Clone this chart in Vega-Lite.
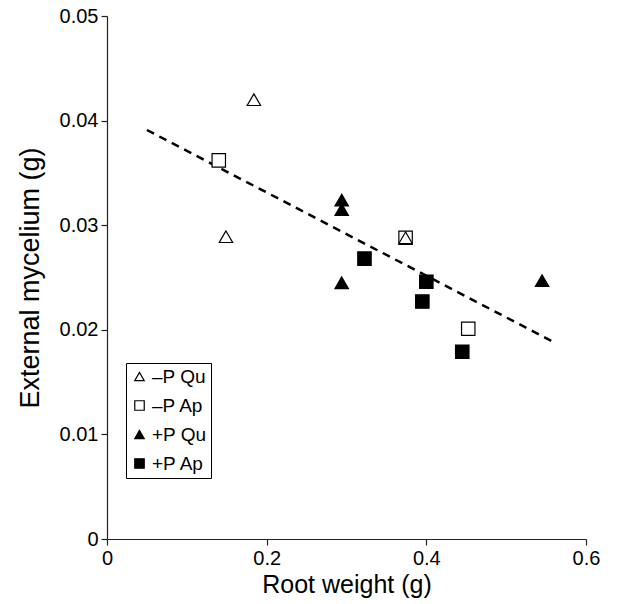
{
  "$schema": "https://vega.github.io/schema/vega-lite/v6.json",
  "width": 479,
  "height": 523,
  "autosize": "none",
  "padding": {"left": 107, "top": 16, "right": 41, "bottom": 65},
  "background": "white",
  "config": {
    "view": {"stroke": null},
    "font": "Liberation Sans",
    "axis": {
      "grid": false,
      "labelFlush": false,
      "domainColor": "#222222",
      "domainWidth": 1.2,
      "tickColor": "#222222",
      "tickWidth": 1.2,
      "tickSize": 6,
      "labelFont": "Liberation Sans",
      "labelFontSize": 20,
      "labelColor": "black",
      "titleFont": "Liberation Sans",
      "titleFontSize": 25,
      "titleFontWeight": "normal",
      "titleColor": "black"
    },
    "legend": {
      "title": null,
      "orient": "none",
      "legendX": 19,
      "legendY": 347,
      "strokeColor": "black",
      "fillColor": "white",
      "padding": 4,
      "labelFont": "Liberation Sans",
      "labelFontSize": 19,
      "labelColor": "black",
      "labelOffset": 3,
      "symbolSize": 90,
      "symbolStrokeColor": "black",
      "symbolStrokeWidth": 1.2,
      "rowPadding": 9
    }
  },
  "layer": [
    {
      "data": {"values": [
        {"x": 0.05, "y": 0.0391},
        {"x": 0.56, "y": 0.0188}
      ]},
      "mark": {"type": "line", "color": "black", "strokeWidth": 2.5, "strokeDash": [8, 6]},
      "encoding": {
        "x": {"field": "x", "type": "quantitative"},
        "y": {"field": "y", "type": "quantitative"}
      }
    },
    {
      "data": {"values": [
        {"group": "–P Ap", "root": 0.140, "myc": 0.0362},
        {"group": "–P Ap", "root": 0.374, "myc": 0.0288},
        {"group": "–P Ap", "root": 0.4525, "myc": 0.0201},
        {"group": "–P Qu", "root": 0.184, "myc": 0.0420},
        {"group": "–P Qu", "root": 0.149, "myc": 0.0289},
        {"group": "–P Qu", "root": 0.374, "myc": 0.0288},
        {"group": "+P Qu", "root": 0.294, "myc": 0.0324},
        {"group": "+P Qu", "root": 0.294, "myc": 0.0315},
        {"group": "+P Qu", "root": 0.294, "myc": 0.0245},
        {"group": "+P Qu", "root": 0.545, "myc": 0.0247},
        {"group": "+P Ap", "root": 0.3225, "myc": 0.0268},
        {"group": "+P Ap", "root": 0.400, "myc": 0.0246},
        {"group": "+P Ap", "root": 0.395, "myc": 0.0227},
        {"group": "+P Ap", "root": 0.445, "myc": 0.0179}
      ]},
      "mark": {"type": "point", "filled": true, "strokeWidth": 1.2, "size": 180, "opacity": 1},
      "encoding": {
        "x": {
          "field": "root", "type": "quantitative",
          "scale": {"domain": [0, 0.6], "nice": false, "zero": true},
          "axis": {"values": [0, 0.2, 0.4, 0.6], "format": ".1~f", "title": "Root weight (g)", "labelPadding": 3, "titlePadding": 4}
        },
        "y": {
          "field": "myc", "type": "quantitative",
          "scale": {"domain": [0, 0.05], "nice": false},
          "axis": {"values": [0, 0.01, 0.02, 0.03, 0.04, 0.05], "format": ".2~f", "title": "External mycelium (g)", "titleFontSize": 27, "labelPadding": 3, "titlePadding": 15}
        },
        "shape": {
          "field": "group", "type": "nominal",
          "scale": {"domain": ["–P Qu", "–P Ap", "+P Qu", "+P Ap"], "range": ["triangle-up", "square", "triangle-up", "square"]}
        },
        "fill": {
          "field": "group", "type": "nominal",
          "scale": {"domain": ["–P Qu", "–P Ap", "+P Qu", "+P Ap"], "range": ["white", "white", "black", "black"]}
        },
        "stroke": {
          "field": "group", "type": "nominal",
          "scale": {"domain": ["–P Qu", "–P Ap", "+P Qu", "+P Ap"], "range": ["black", "black", "black", "black"]}
        }
      }
    }
  ]
}
